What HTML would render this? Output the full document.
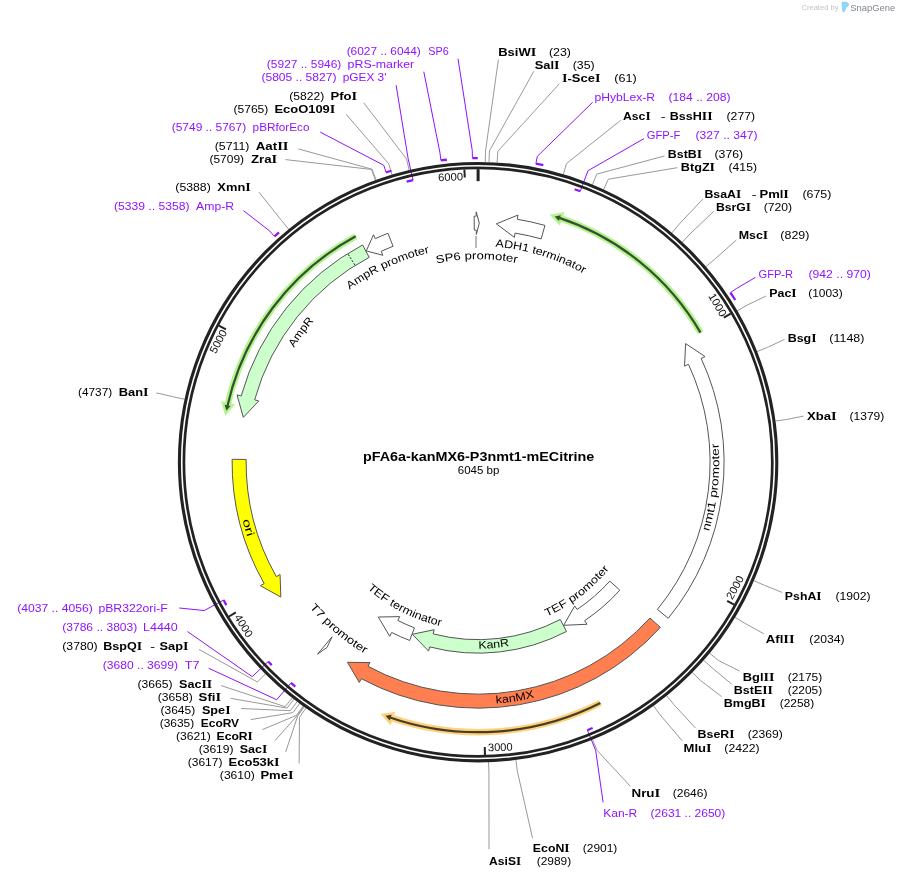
<!DOCTYPE html><html><head><meta charset="utf-8"><style>html,body{margin:0;padding:0;background:#fff;}svg{display:block;will-change:transform;}</style></head><body>
<svg width="899" height="878" viewBox="0 0 899 878" font-family='"Liberation Sans", sans-serif'>
<rect width="899" height="878" fill="#fff"/>
<polyline points="485.27,162.24 485.55,150.74 498.40,59.60" fill="none" stroke="#999999" stroke-width="1"/>
<polyline points="489.01,162.35 489.43,150.86 533.80,71.30" fill="none" stroke="#999999" stroke-width="1"/>
<polyline points="497.11,162.75 497.84,151.28 559.50,83.60" fill="none" stroke="#999999" stroke-width="1"/>
<polyline points="535.89,163.69 537.31,156.33 592.60,102.40" fill="none" stroke="#9013fe" stroke-width="1.0"/>
<polyline points="563.29,174.50 566.55,163.47 620.70,120.30" fill="none" stroke="#999999" stroke-width="1"/>
<polyline points="580.27,191.28 588.03,170.69 644.00,138.60" fill="none" stroke="#9013fe" stroke-width="1.0"/>
<polyline points="592.38,184.77 596.76,174.14 664.40,156.00" fill="none" stroke="#999999" stroke-width="1"/>
<polyline points="603.53,189.63 608.34,179.18 677.20,167.70" fill="none" stroke="#999999" stroke-width="1"/>
<polyline points="671.73,233.01 679.15,224.22 702.80,199.10" fill="none" stroke="#999999" stroke-width="1"/>
<polyline points="682.23,242.31 690.06,233.88 713.80,211.30" fill="none" stroke="#999999" stroke-width="1"/>
<polyline points="705.78,266.80 714.51,259.31 736.40,240.00" fill="none" stroke="#999999" stroke-width="1"/>
<polyline points="730.42,292.59 736.65,288.41 755.40,277.40" fill="none" stroke="#9013fe" stroke-width="1.0"/>
<polyline points="737.20,310.94 747.14,305.14 766.00,296.00" fill="none" stroke="#999999" stroke-width="1"/>
<polyline points="756.97,351.55 767.66,347.31 784.50,339.40" fill="none" stroke="#999999" stroke-width="1"/>
<polyline points="775.27,421.04 786.66,419.47 803.50,416.10" fill="none" stroke="#999999" stroke-width="1"/>
<polyline points="753.70,580.67 764.26,585.21 782.10,592.40" fill="none" stroke="#999999" stroke-width="1"/>
<polyline points="734.89,617.25 744.74,623.20 763.70,633.70" fill="none" stroke="#999999" stroke-width="1"/>
<polyline points="709.49,653.09 718.36,660.41 739.60,671.10" fill="none" stroke="#999999" stroke-width="1"/>
<polyline points="703.43,660.21 712.06,667.80 731.60,684.10" fill="none" stroke="#999999" stroke-width="1"/>
<polyline points="692.18,672.32 700.39,680.37 721.60,696.60" fill="none" stroke="#999999" stroke-width="1"/>
<polyline points="666.56,695.56 673.79,704.51 695.60,728.10" fill="none" stroke="#999999" stroke-width="1"/>
<polyline points="653.42,705.59 660.15,714.92 682.30,740.90" fill="none" stroke="#999999" stroke-width="1"/>
<polyline points="592.53,739.47 596.91,750.10 630.30,786.30" fill="none" stroke="#999999" stroke-width="1"/>
<polyline points="587.41,730.22 595.71,750.59 603.10,802.40" fill="none" stroke="#9013fe" stroke-width="1.0"/>
<polyline points="515.89,759.76 517.33,771.17 532.50,838.10" fill="none" stroke="#999999" stroke-width="1"/>
<polyline points="488.54,761.97 488.94,773.46 489.00,849.10" fill="none" stroke="#999999" stroke-width="1"/>
<polyline points="306.08,707.93 299.49,717.35 299.10,763.40" fill="none" stroke="#999999" stroke-width="1"/>
<polyline points="304.30,706.67 297.63,716.05 285.70,751.90" fill="none" stroke="#999999" stroke-width="1"/>
<polyline points="303.79,706.31 297.11,715.67 275.10,740.50" fill="none" stroke="#999999" stroke-width="1"/>
<polyline points="303.28,705.95 296.58,715.30 262.40,729.60" fill="none" stroke="#999999" stroke-width="1"/>
<polyline points="299.75,703.38 292.92,712.63 250.80,719.60" fill="none" stroke="#999999" stroke-width="1"/>
<polyline points="297.25,701.51 290.32,710.69 241.20,708.50" fill="none" stroke="#999999" stroke-width="1"/>
<polyline points="294.04,699.05 286.98,708.13 230.60,698.30" fill="none" stroke="#999999" stroke-width="1"/>
<polyline points="292.32,697.70 285.20,706.73 221.20,685.60" fill="none" stroke="#999999" stroke-width="1"/>
<polyline points="290.90,682.98 276.68,699.76 208.60,668.20" fill="none" stroke="#9013fe" stroke-width="1.0"/>
<polyline points="265.55,673.87 257.41,681.98 199.00,649.40" fill="none" stroke="#999999" stroke-width="1"/>
<polyline points="268.17,661.50 252.22,676.65 187.40,631.50" fill="none" stroke="#9013fe" stroke-width="1.0"/>
<polyline points="223.57,600.07 204.22,610.55 179.30,608.00" fill="none" stroke="#9013fe" stroke-width="1.0"/>
<polyline points="184.77,399.24 173.53,396.83 156.40,392.90" fill="none" stroke="#999999" stroke-width="1"/>
<polyline points="274.51,236.39 269.49,230.82 243.40,210.60" fill="none" stroke="#9013fe" stroke-width="1.0"/>
<polyline points="288.79,229.42 281.53,220.50 259.00,192.20" fill="none" stroke="#999999" stroke-width="1"/>
<polyline points="375.45,180.26 371.51,169.45 285.50,159.60" fill="none" stroke="#999999" stroke-width="1"/>
<polyline points="376.03,180.05 372.12,169.23 298.30,148.90" fill="none" stroke="#999999" stroke-width="1"/>
<polyline points="386.04,172.42 383.77,165.28 320.20,132.10" fill="none" stroke="#9013fe" stroke-width="1.0"/>
<polyline points="392.02,174.77 388.72,163.75 346.10,114.20" fill="none" stroke="#999999" stroke-width="1"/>
<polyline points="409.18,170.17 406.54,158.98 363.70,102.70" fill="none" stroke="#999999" stroke-width="1"/>
<polyline points="413.06,180.05 408.12,158.61 396.10,85.20" fill="none" stroke="#9013fe" stroke-width="1.0"/>
<polyline points="440.91,160.43 439.99,152.99 423.80,71.70" fill="none" stroke="#9013fe" stroke-width="1.0"/>
<polyline points="472.41,158.20 472.27,150.70 458.00,58.70" fill="none" stroke="#9013fe" stroke-width="1.0"/>
<circle cx="478.1" cy="462.15" r="298.7" fill="none" stroke="#222222" stroke-width="3.1"/>
<circle cx="478.1" cy="462.15" r="294.2" fill="none" stroke="#222222" stroke-width="2.7"/>
<path d="M535.89,163.69 A304.00,304.00 0 0 1 543.31,165.23" fill="none" stroke="#9013fe" stroke-width="2.3"/>
<path d="M574.61,189.21 A289.50,289.50 0 0 1 580.27,191.28" fill="none" stroke="#9013fe" stroke-width="2.3"/>
<path d="M730.42,292.59 A304.00,304.00 0 0 1 735.25,300.01" fill="none" stroke="#9013fe" stroke-width="2.3"/>
<path d="M592.68,728.01 A289.50,289.50 0 0 1 587.41,730.22" fill="none" stroke="#9013fe" stroke-width="2.3"/>
<path d="M295.30,686.64 A289.50,289.50 0 0 1 290.90,682.98" fill="none" stroke="#9013fe" stroke-width="2.3"/>
<path d="M271.72,665.17 A289.50,289.50 0 0 1 268.17,661.50" fill="none" stroke="#9013fe" stroke-width="2.3"/>
<path d="M226.34,605.07 A289.50,289.50 0 0 1 223.57,600.07" fill="none" stroke="#9013fe" stroke-width="2.3"/>
<path d="M274.51,236.39 A304.00,304.00 0 0 1 279.01,232.42" fill="none" stroke="#9013fe" stroke-width="2.3"/>
<path d="M386.04,172.42 A304.00,304.00 0 0 1 391.48,170.75" fill="none" stroke="#9013fe" stroke-width="2.3"/>
<path d="M406.63,181.61 A289.50,289.50 0 0 1 413.06,180.05" fill="none" stroke="#9013fe" stroke-width="2.3"/>
<path d="M440.91,160.43 A304.00,304.00 0 0 1 446.87,159.76" fill="none" stroke="#9013fe" stroke-width="2.3"/>
<path d="M472.41,158.20 A304.00,304.00 0 0 1 477.78,158.15" fill="none" stroke="#9013fe" stroke-width="2.3"/>
<line x1="478.10" y1="169.15" x2="478.10" y2="181.15" stroke="#222222" stroke-width="3"/>
<line x1="730.70" y1="313.68" x2="723.80" y2="317.73" stroke="#222222" stroke-width="2"/>
<text x="0" y="0" transform="translate(717.81,304.78) rotate(59.55)" font-size="11" fill="#111" text-anchor="middle" dominant-baseline="central" textLength="25.31" lengthAdjust="spacingAndGlyphs">1000</text>
<line x1="734.10" y1="604.68" x2="727.11" y2="600.78" stroke="#222222" stroke-width="2"/>
<text x="0" y="0" transform="translate(734.82,587.34) rotate(-60.89)" font-size="11" fill="#111" text-anchor="middle" dominant-baseline="central" textLength="25.00" lengthAdjust="spacingAndGlyphs">2000</text>
<line x1="484.95" y1="755.07" x2="484.76" y2="747.07" stroke="#222222" stroke-width="2"/>
<text x="0" y="0" transform="translate(500.26,746.91) rotate(-1.34)" font-size="11" fill="#111" text-anchor="middle" dominant-baseline="central" textLength="24.86" lengthAdjust="spacingAndGlyphs">3000</text>
<line x1="229.05" y1="616.49" x2="235.85" y2="612.28" stroke="#222222" stroke-width="2"/>
<text x="0" y="0" transform="translate(243.84,625.56) rotate(58.21)" font-size="11" fill="#111" text-anchor="middle" dominant-baseline="central" textLength="24.69" lengthAdjust="spacingAndGlyphs">4000</text>
<line x1="218.84" y1="325.65" x2="225.92" y2="329.38" stroke="#222222" stroke-width="2"/>
<text x="0" y="0" transform="translate(218.06,341.29) rotate(-62.23)" font-size="11" fill="#111" text-anchor="middle" dominant-baseline="central" textLength="24.88" lengthAdjust="spacingAndGlyphs">5000</text>
<line x1="464.40" y1="169.47" x2="464.77" y2="177.46" stroke="#222222" stroke-width="2"/>
<text x="0" y="0" transform="translate(450.52,176.73) rotate(-2.68)" font-size="11" fill="#111" text-anchor="middle" dominant-baseline="central" textLength="25.01" lengthAdjust="spacingAndGlyphs">6000</text>
<path d="M544.96,225.41 A246.00,246.00 0 0 0 517.28,219.29 L517.97,215.05 L496.31,223.84 L514.37,237.36 L515.05,233.11 A232.00,232.00 0 0 1 541.15,238.88 Z" fill="#ffffff" stroke="#555" stroke-width="1.0" stroke-linejoin="miter"/>
<path d="M474.11,216.18 A246.00,246.00 0 0 1 476.21,216.16 L476.18,211.86 L479.27,223.15 L476.35,234.46 L476.32,230.16 A232.00,232.00 0 0 0 474.33,230.18 Z" fill="#ffffff" stroke="#555" stroke-width="1.0" stroke-linejoin="miter"/>
<path d="M387.94,233.27 A246.00,246.00 0 0 0 375.30,238.66 L373.51,234.75 L366.26,250.93 L382.95,255.28 L381.15,251.38 A232.00,232.00 0 0 1 393.07,246.29 Z" fill="#ffffff" stroke="#555" stroke-width="1.0" stroke-linejoin="miter"/>
<path d="M362.61,244.94 A246.00,246.00 0 0 0 241.16,396.02 L237.01,394.86 L243.33,417.37 L258.78,400.94 L254.64,399.78 A232.00,232.00 0 0 1 369.18,257.31 Z" fill="#ccffcc" stroke="#555" stroke-width="1.0" stroke-linejoin="miter"/>
<path d="M232.12,459.27 A246.00,246.00 0 0 0 264.15,583.57 L260.41,585.69 L280.83,597.07 L280.07,574.54 L276.33,576.66 A232.00,232.00 0 0 1 246.12,459.44 Z" fill="#ffff00" stroke="#555" stroke-width="1.0" stroke-linejoin="miter"/>
<path d="M320.30,650.87 A246.00,246.00 0 0 0 320.30,650.87 L317.55,654.17 L327.04,647.36 L332.04,636.83 L329.28,640.13 A232.00,232.00 0 0 0 329.28,640.13 Z" fill="#ffffff" stroke="#555" stroke-width="1.0" stroke-linejoin="miter"/>
<path d="M660.34,627.39 A246.00,246.00 0 0 1 361.34,678.68 L359.30,682.46 L347.48,662.30 L370.03,662.57 L367.99,666.35 A232.00,232.00 0 0 0 649.97,617.99 Z" fill="#ff7f50" stroke="#555" stroke-width="1.0" stroke-linejoin="miter"/>
<path d="M668.19,618.29 A246.00,246.00 0 0 0 701.15,358.40 L705.05,356.58 L685.62,343.59 L684.56,366.12 L688.46,364.30 A232.00,232.00 0 0 1 657.37,609.41 Z" fill="#ffffff" stroke="#555" stroke-width="1.0" stroke-linejoin="miter"/>
<path d="M619.82,590.20 A191.00,191.00 0 0 1 584.63,620.68 L587.03,624.25 L563.69,625.31 L574.70,605.91 L577.10,609.48 A177.50,177.50 0 0 0 609.80,581.15 Z" fill="#ffffff" stroke="#555" stroke-width="1.0" stroke-linejoin="miter"/>
<path d="M566.50,631.46 A191.00,191.00 0 0 1 429.69,646.91 L428.60,651.07 L412.37,634.28 L434.21,629.70 L433.12,633.86 A177.50,177.50 0 0 0 560.25,619.49 Z" fill="#ccffcc" stroke="#555" stroke-width="1.0" stroke-linejoin="miter"/>
<path d="M409.65,640.46 A191.00,191.00 0 0 1 391.68,632.48 L389.74,636.32 L378.29,617.02 L399.74,616.61 L397.79,620.44 A177.50,177.50 0 0 0 414.49,627.86 Z" fill="#ffffff" stroke="#555" stroke-width="1.0" stroke-linejoin="miter"/>
<line x1="354.89" y1="264.98" x2="348.00" y2="253.95" stroke="#222" stroke-width="1" stroke-dasharray="2,1.5"/>
<line x1="476" y1="236" x2="476" y2="248" stroke="#777" stroke-width="1"/>
<path d="M700.52,332.60 A257.40,257.40 0 0 0 558.60,217.66" fill="none" stroke="#b2f58f" stroke-width="6.5"/>
<path d="M554.64,216.39 L560.83,215.24 L558.92,220.93 Z" fill="#b2f58f" stroke="#b2f58f" stroke-width="5" stroke-linejoin="miter"/>
<path d="M700.52,332.60 A257.40,257.40 0 0 0 558.60,217.66" fill="none" stroke="#38502f" stroke-width="2.2"/>
<path d="M554.64,216.39 L560.83,215.24 L558.92,220.93 Z" fill="#38502f"/>
<path d="M355.71,236.27 A256.90,256.90 0 0 0 227.27,406.65" fill="none" stroke="#b2f58f" stroke-width="6.5"/>
<path d="M226.40,410.71 L224.64,404.67 L230.49,406.00 Z" fill="#b2f58f" stroke="#b2f58f" stroke-width="5" stroke-linejoin="miter"/>
<path d="M355.71,236.27 A256.90,256.90 0 0 0 227.27,406.65" fill="none" stroke="#38502f" stroke-width="2.2"/>
<path d="M226.40,410.71 L224.64,404.67 L230.49,406.00 Z" fill="#38502f"/>
<path d="M600.36,702.94 A270.05,270.05 0 0 1 389.32,717.19" fill="none" stroke="#fdd27d" stroke-width="6.5"/>
<path d="M385.47,715.82 L389.69,720.49 L391.63,714.81 Z" fill="#fdd27d" stroke="#fdd27d" stroke-width="5" stroke-linejoin="miter"/>
<path d="M600.36,702.94 A270.05,270.05 0 0 1 389.32,717.19" fill="none" stroke="#4a3d28" stroke-width="2.2"/>
<path d="M385.47,715.82 L389.69,720.49 L391.63,714.81 Z" fill="#4a3d28"/>
<path id="lp1" d="M271.46,399.25 A216.00,216.00 0 0 1 684.74,525.05" fill="none"/>
<text font-size="11.0" fill="#000"><textPath href="#lp1" startOffset="50%" text-anchor="middle" textLength="93.23" lengthAdjust="spacingAndGlyphs">ADH1 terminator</textPath></text>
<path id="lp2" d="M275.10,463.43 A203.00,203.00 0 0 1 681.10,460.87" fill="none"/>
<text font-size="11.0" fill="#000"><textPath href="#lp2" startOffset="50%" text-anchor="middle" textLength="81.12" lengthAdjust="spacingAndGlyphs">SP6 promoter</textPath></text>
<path id="lp3" d="M281.65,553.13 A216.50,216.50 0 0 1 674.55,371.17" fill="none"/>
<text font-size="11.0" fill="#000"><textPath href="#lp3" startOffset="50%" text-anchor="middle" textLength="88.83" lengthAdjust="spacingAndGlyphs">AmpR promoter</textPath></text>
<path id="lp4" d="M349.34,637.44 A217.50,217.50 0 0 1 606.86,286.86" fill="none"/>
<text font-size="11.0" fill="#000"><textPath href="#lp4" startOffset="50%" text-anchor="middle" textLength="33.58" lengthAdjust="spacingAndGlyphs">AmpR</textPath></text>
<path id="lp5" d="M411.80,229.41 A242.00,242.00 0 1 0 544.40,694.89" fill="none"/>
<text font-size="11.0" fill="#000"><textPath href="#lp5" startOffset="50%" text-anchor="middle" textLength="17.75" lengthAdjust="spacingAndGlyphs">ori</textPath></text>
<path id="lp6" d="M452.12,703.25 A242.50,242.50 0 0 0 504.08,221.05" fill="none"/>
<text font-size="11.0" fill="#000"><textPath href="#lp6" startOffset="50%" text-anchor="middle" textLength="89.14" lengthAdjust="spacingAndGlyphs">nmt1 promoter</textPath></text>
<path id="lp7" d="M238.98,499.38 A242.00,242.00 0 0 0 717.22,424.92" fill="none"/>
<text font-size="11.0" fill="#000"><textPath href="#lp7" startOffset="50%" text-anchor="middle" textLength="39.11" lengthAdjust="spacingAndGlyphs">kanMX</textPath></text>
<path id="lp8" d="M293.28,477.99 A185.50,185.50 0 1 0 662.92,446.31" fill="none"/>
<text font-size="11.0" fill="#000"><textPath href="#lp8" startOffset="50%" text-anchor="middle" textLength="31.10" lengthAdjust="spacingAndGlyphs">KanR</textPath></text>
<path id="lp9" d="M343.84,564.80 A169.00,169.00 0 0 0 612.36,359.50" fill="none"/>
<text font-size="11.0" fill="#000"><textPath href="#lp9" startOffset="50%" text-anchor="middle" textLength="79.50" lengthAdjust="spacingAndGlyphs">TEF promoter</textPath></text>
<path id="lp10" d="M327.52,385.43 A169.00,169.00 0 0 0 628.68,538.87" fill="none"/>
<text font-size="11.0" fill="#000"><textPath href="#lp10" startOffset="50%" text-anchor="middle" textLength="83.49" lengthAdjust="spacingAndGlyphs">TEF terminator</textPath></text>
<path id="lp11" d="M307.02,319.11 A223.00,223.00 0 0 0 649.18,605.19" fill="none"/>
<text font-size="11.0" fill="#000"><textPath href="#lp11" startOffset="50%" text-anchor="middle" textLength="72.52" lengthAdjust="spacingAndGlyphs">T7 promoter</textPath></text>
<text x="498.23" y="56.20" font-size="11.0" font-weight="bold" fill="#000" textLength="38.05" lengthAdjust="spacingAndGlyphs">BsiW<tspan font-family="Liberation Serif" font-size="12.10">I</tspan></text>
<text x="548.94" y="56.20" font-size="11.0" fill="#000" textLength="21.93" lengthAdjust="spacingAndGlyphs">(23)</text>
<text x="534.73" y="68.90" font-size="11.0" font-weight="bold" fill="#000" textLength="24.74" lengthAdjust="spacingAndGlyphs">Sal<tspan font-family="Liberation Serif" font-size="12.10">I</tspan></text>
<text x="572.74" y="68.90" font-size="11.0" fill="#000" textLength="21.82" lengthAdjust="spacingAndGlyphs">(35)</text>
<text x="562.02" y="82.10" font-size="11.0" font-weight="bold" fill="#000" textLength="38.46" lengthAdjust="spacingAndGlyphs"><tspan font-family="Liberation Serif" font-size="12.10">I</tspan>-Sce<tspan font-family="Liberation Serif" font-size="12.10">I</tspan></text>
<text x="614.32" y="82.10" font-size="11.0" fill="#000" textLength="22.36" lengthAdjust="spacingAndGlyphs">(61)</text>
<text x="594.42" y="100.90" font-size="11.0" fill="#9013fe" textLength="60.75" lengthAdjust="spacingAndGlyphs">pHybLex-R</text>
<text x="668.55" y="100.90" font-size="11.0" fill="#9013fe" textLength="62.00" lengthAdjust="spacingAndGlyphs">(184 .. 208)</text>
<text x="623.00" y="120.00" font-size="11.0" font-weight="bold" fill="#000" textLength="27.66" lengthAdjust="spacingAndGlyphs">Asc<tspan font-family="Liberation Serif" font-size="12.10">I</tspan></text>
<text x="660.86" y="120.00" font-size="11.0" fill="#000" textLength="4.77" lengthAdjust="spacingAndGlyphs">-</text>
<text x="669.76" y="120.00" font-size="11.0" font-weight="bold" fill="#000" textLength="42.91" lengthAdjust="spacingAndGlyphs">BssH<tspan font-family="Liberation Serif" font-size="12.10">I</tspan><tspan font-family="Liberation Serif" font-size="12.10">I</tspan></text>
<text x="726.54" y="120.00" font-size="11.0" fill="#000" textLength="28.51" lengthAdjust="spacingAndGlyphs">(277)</text>
<text x="646.74" y="138.80" font-size="11.0" fill="#9013fe" textLength="33.61" lengthAdjust="spacingAndGlyphs">GFP-F</text>
<text x="695.55" y="138.80" font-size="11.0" fill="#9013fe" textLength="61.90" lengthAdjust="spacingAndGlyphs">(327 .. 347)</text>
<text x="667.77" y="157.70" font-size="11.0" font-weight="bold" fill="#000" textLength="34.29" lengthAdjust="spacingAndGlyphs">BstB<tspan font-family="Liberation Serif" font-size="12.10">I</tspan></text>
<text x="714.54" y="157.70" font-size="11.0" fill="#000" textLength="28.51" lengthAdjust="spacingAndGlyphs">(376)</text>
<text x="680.75" y="170.70" font-size="11.0" font-weight="bold" fill="#000" textLength="34.32" lengthAdjust="spacingAndGlyphs">BtgZ<tspan font-family="Liberation Serif" font-size="12.10">I</tspan></text>
<text x="728.55" y="170.70" font-size="11.0" fill="#000" textLength="28.41" lengthAdjust="spacingAndGlyphs">(415)</text>
<text x="704.48" y="197.60" font-size="11.0" font-weight="bold" fill="#000" textLength="36.78" lengthAdjust="spacingAndGlyphs">BsaA<tspan font-family="Liberation Serif" font-size="12.10">I</tspan></text>
<text x="751.86" y="197.60" font-size="11.0" fill="#000" textLength="4.77" lengthAdjust="spacingAndGlyphs">-</text>
<text x="759.43" y="197.60" font-size="11.0" font-weight="bold" fill="#000" textLength="29.56" lengthAdjust="spacingAndGlyphs">Pml<tspan font-family="Liberation Serif" font-size="12.10">I</tspan></text>
<text x="802.43" y="197.60" font-size="11.0" fill="#000" textLength="28.94" lengthAdjust="spacingAndGlyphs">(675)</text>
<text x="715.98" y="210.60" font-size="11.0" font-weight="bold" fill="#000" textLength="35.07" lengthAdjust="spacingAndGlyphs">BsrG<tspan font-family="Liberation Serif" font-size="12.10">I</tspan></text>
<text x="763.75" y="210.60" font-size="11.0" fill="#000" textLength="28.41" lengthAdjust="spacingAndGlyphs">(720)</text>
<text x="738.67" y="238.70" font-size="11.0" font-weight="bold" fill="#000" textLength="29.49" lengthAdjust="spacingAndGlyphs">Msc<tspan font-family="Liberation Serif" font-size="12.10">I</tspan></text>
<text x="780.33" y="238.70" font-size="11.0" fill="#000" textLength="29.04" lengthAdjust="spacingAndGlyphs">(829)</text>
<text x="758.54" y="277.90" font-size="11.0" fill="#9013fe" textLength="34.57" lengthAdjust="spacingAndGlyphs">GFP-R</text>
<text x="808.55" y="277.90" font-size="11.0" fill="#9013fe" textLength="62.21" lengthAdjust="spacingAndGlyphs">(942 .. 970)</text>
<text x="769.37" y="297.00" font-size="11.0" font-weight="bold" fill="#000" textLength="27.28" lengthAdjust="spacingAndGlyphs">Pac<tspan font-family="Liberation Serif" font-size="12.10">I</tspan></text>
<text x="808.26" y="297.00" font-size="11.0" fill="#000" textLength="34.48" lengthAdjust="spacingAndGlyphs">(1003)</text>
<text x="787.67" y="342.00" font-size="11.0" font-weight="bold" fill="#000" textLength="28.90" lengthAdjust="spacingAndGlyphs">Bsg<tspan font-family="Liberation Serif" font-size="12.10">I</tspan></text>
<text x="829.35" y="342.00" font-size="11.0" fill="#000" textLength="35.00" lengthAdjust="spacingAndGlyphs">(1148)</text>
<text x="806.98" y="420.10" font-size="11.0" font-weight="bold" fill="#000" textLength="29.60" lengthAdjust="spacingAndGlyphs">Xba<tspan font-family="Liberation Serif" font-size="12.10">I</tspan></text>
<text x="849.45" y="420.10" font-size="11.0" fill="#000" textLength="34.90" lengthAdjust="spacingAndGlyphs">(1379)</text>
<text x="784.88" y="600.00" font-size="11.0" font-weight="bold" fill="#000" textLength="36.68" lengthAdjust="spacingAndGlyphs">PshA<tspan font-family="Liberation Serif" font-size="12.10">I</tspan></text>
<text x="835.45" y="600.00" font-size="11.0" fill="#000" textLength="35.11" lengthAdjust="spacingAndGlyphs">(1902)</text>
<text x="765.77" y="642.50" font-size="11.0" font-weight="bold" fill="#000" textLength="28.82" lengthAdjust="spacingAndGlyphs">Afl<tspan font-family="Liberation Serif" font-size="12.10">I</tspan><tspan font-family="Liberation Serif" font-size="12.10">I</tspan></text>
<text x="809.34" y="642.50" font-size="11.0" fill="#000" textLength="35.21" lengthAdjust="spacingAndGlyphs">(2034)</text>
<text x="742.84" y="680.70" font-size="11.0" font-weight="bold" fill="#000" textLength="31.74" lengthAdjust="spacingAndGlyphs">Bgl<tspan font-family="Liberation Serif" font-size="12.10">I</tspan><tspan font-family="Liberation Serif" font-size="12.10">I</tspan></text>
<text x="787.76" y="680.70" font-size="11.0" fill="#000" textLength="34.48" lengthAdjust="spacingAndGlyphs">(2175)</text>
<text x="733.76" y="693.50" font-size="11.0" font-weight="bold" fill="#000" textLength="39.20" lengthAdjust="spacingAndGlyphs">BstE<tspan font-family="Liberation Serif" font-size="12.10">I</tspan><tspan font-family="Liberation Serif" font-size="12.10">I</tspan></text>
<text x="787.76" y="693.50" font-size="11.0" fill="#000" textLength="34.48" lengthAdjust="spacingAndGlyphs">(2205)</text>
<text x="723.76" y="706.60" font-size="11.0" font-weight="bold" fill="#000" textLength="42.20" lengthAdjust="spacingAndGlyphs">BmgB<tspan font-family="Liberation Serif" font-size="12.10">I</tspan></text>
<text x="779.76" y="706.60" font-size="11.0" fill="#000" textLength="34.48" lengthAdjust="spacingAndGlyphs">(2258)</text>
<text x="697.57" y="737.50" font-size="11.0" font-weight="bold" fill="#000" textLength="36.99" lengthAdjust="spacingAndGlyphs">BseR<tspan font-family="Liberation Serif" font-size="12.10">I</tspan></text>
<text x="747.75" y="737.50" font-size="11.0" fill="#000" textLength="35.00" lengthAdjust="spacingAndGlyphs">(2369)</text>
<text x="683.63" y="751.60" font-size="11.0" font-weight="bold" fill="#000" textLength="28.06" lengthAdjust="spacingAndGlyphs">Mlu<tspan font-family="Liberation Serif" font-size="12.10">I</tspan></text>
<text x="724.35" y="751.60" font-size="11.0" fill="#000" textLength="35.11" lengthAdjust="spacingAndGlyphs">(2422)</text>
<text x="631.50" y="797.40" font-size="11.0" font-weight="bold" fill="#000" textLength="28.79" lengthAdjust="spacingAndGlyphs">Nru<tspan font-family="Liberation Serif" font-size="12.10">I</tspan></text>
<text x="672.76" y="797.40" font-size="11.0" fill="#000" textLength="34.69" lengthAdjust="spacingAndGlyphs">(2646)</text>
<text x="603.21" y="816.70" font-size="11.0" fill="#9013fe" textLength="34.04" lengthAdjust="spacingAndGlyphs">Kan-R</text>
<text x="650.56" y="816.70" font-size="11.0" fill="#9013fe" textLength="74.69" lengthAdjust="spacingAndGlyphs">(2631 .. 2650)</text>
<text x="532.88" y="851.70" font-size="11.0" font-weight="bold" fill="#000" textLength="36.68" lengthAdjust="spacingAndGlyphs">EcoN<tspan font-family="Liberation Serif" font-size="12.10">I</tspan></text>
<text x="582.76" y="851.70" font-size="11.0" fill="#000" textLength="34.58" lengthAdjust="spacingAndGlyphs">(2901)</text>
<text x="489.10" y="864.50" font-size="11.0" font-weight="bold" fill="#000" textLength="32.05" lengthAdjust="spacingAndGlyphs">AsiS<tspan font-family="Liberation Serif" font-size="12.10">I</tspan></text>
<text x="536.76" y="864.50" font-size="11.0" fill="#000" textLength="34.48" lengthAdjust="spacingAndGlyphs">(2989)</text>
<text x="219.85" y="779.00" font-size="11.0" fill="#000" textLength="35.00" lengthAdjust="spacingAndGlyphs">(3610)</text>
<text x="260.43" y="779.00" font-size="11.0" font-weight="bold" fill="#000" textLength="33.16" lengthAdjust="spacingAndGlyphs">Pme<tspan font-family="Liberation Serif" font-size="12.10">I</tspan></text>
<text x="187.76" y="766.00" font-size="11.0" fill="#000" textLength="34.69" lengthAdjust="spacingAndGlyphs">(3617)</text>
<text x="228.63" y="766.00" font-size="11.0" font-weight="bold" fill="#000" textLength="50.95" lengthAdjust="spacingAndGlyphs">Eco53k<tspan font-family="Liberation Serif" font-size="12.10">I</tspan></text>
<text x="198.65" y="753.00" font-size="11.0" fill="#000" textLength="34.90" lengthAdjust="spacingAndGlyphs">(3619)</text>
<text x="239.74" y="753.00" font-size="11.0" font-weight="bold" fill="#000" textLength="27.52" lengthAdjust="spacingAndGlyphs">Sac<tspan font-family="Liberation Serif" font-size="12.10">I</tspan></text>
<text x="175.95" y="740.00" font-size="11.0" fill="#000" textLength="34.90" lengthAdjust="spacingAndGlyphs">(3621)</text>
<text x="216.59" y="740.00" font-size="11.0" font-weight="bold" fill="#000" textLength="36.26" lengthAdjust="spacingAndGlyphs">EcoR<tspan font-family="Liberation Serif" font-size="12.10">I</tspan></text>
<text x="159.76" y="727.00" font-size="11.0" fill="#000" textLength="34.37" lengthAdjust="spacingAndGlyphs">(3635)</text>
<text x="200.81" y="727.00" font-size="11.0" font-weight="bold" fill="#000" textLength="38.28" lengthAdjust="spacingAndGlyphs">EcoRV</text>
<text x="160.45" y="714.00" font-size="11.0" fill="#000" textLength="34.79" lengthAdjust="spacingAndGlyphs">(3645)</text>
<text x="201.94" y="714.00" font-size="11.0" font-weight="bold" fill="#000" textLength="28.63" lengthAdjust="spacingAndGlyphs">Spe<tspan font-family="Liberation Serif" font-size="12.10">I</tspan></text>
<text x="157.75" y="700.50" font-size="11.0" fill="#000" textLength="34.90" lengthAdjust="spacingAndGlyphs">(3658)</text>
<text x="198.62" y="700.50" font-size="11.0" font-weight="bold" fill="#000" textLength="22.47" lengthAdjust="spacingAndGlyphs">Sfi<tspan font-family="Liberation Serif" font-size="12.10">I</tspan></text>
<text x="137.45" y="688.00" font-size="11.0" fill="#000" textLength="35.11" lengthAdjust="spacingAndGlyphs">(3665)</text>
<text x="179.04" y="688.00" font-size="11.0" font-weight="bold" fill="#000" textLength="33.13" lengthAdjust="spacingAndGlyphs">Sac<tspan font-family="Liberation Serif" font-size="12.10">I</tspan><tspan font-family="Liberation Serif" font-size="12.10">I</tspan></text>
<text x="102.75" y="668.80" font-size="11.0" fill="#9013fe" textLength="75.30" lengthAdjust="spacingAndGlyphs">(3680 .. 3699)</text>
<text x="184.81" y="668.80" font-size="11.0" fill="#9013fe" textLength="14.82" lengthAdjust="spacingAndGlyphs">T7</text>
<text x="62.24" y="650.00" font-size="11.0" fill="#000" textLength="35.42" lengthAdjust="spacingAndGlyphs">(3780)</text>
<text x="103.26" y="650.00" font-size="11.0" font-weight="bold" fill="#000" textLength="38.91" lengthAdjust="spacingAndGlyphs">BspQ<tspan font-family="Liberation Serif" font-size="12.10">I</tspan></text>
<text x="150.36" y="650.00" font-size="11.0" fill="#000" textLength="4.77" lengthAdjust="spacingAndGlyphs">-</text>
<text x="159.53" y="650.00" font-size="11.0" font-weight="bold" fill="#000" textLength="28.94" lengthAdjust="spacingAndGlyphs">Sap<tspan font-family="Liberation Serif" font-size="12.10">I</tspan></text>
<text x="62.25" y="630.60" font-size="11.0" fill="#9013fe" textLength="74.99" lengthAdjust="spacingAndGlyphs">(3786 .. 3803)</text>
<text x="142.97" y="630.60" font-size="11.0" fill="#9013fe" textLength="34.82" lengthAdjust="spacingAndGlyphs">L4440</text>
<text x="17.15" y="612.00" font-size="11.0" fill="#9013fe" textLength="75.61" lengthAdjust="spacingAndGlyphs">(4037 .. 4056)</text>
<text x="98.41" y="612.00" font-size="11.0" fill="#9013fe" textLength="69.28" lengthAdjust="spacingAndGlyphs">pBR322ori-F</text>
<text x="77.97" y="395.70" font-size="11.0" fill="#000" textLength="34.17" lengthAdjust="spacingAndGlyphs">(4737)</text>
<text x="118.74" y="395.70" font-size="11.0" font-weight="bold" fill="#000" textLength="29.84" lengthAdjust="spacingAndGlyphs">Ban<tspan font-family="Liberation Serif" font-size="12.10">I</tspan></text>
<text x="113.95" y="209.50" font-size="11.0" fill="#9013fe" textLength="75.50" lengthAdjust="spacingAndGlyphs">(5339 .. 5358)</text>
<text x="196.08" y="209.50" font-size="11.0" fill="#9013fe" textLength="37.99" lengthAdjust="spacingAndGlyphs">Amp-R</text>
<text x="175.34" y="190.80" font-size="11.0" fill="#000" textLength="35.42" lengthAdjust="spacingAndGlyphs">(5388)</text>
<text x="217.39" y="190.80" font-size="11.0" font-weight="bold" fill="#000" textLength="33.39" lengthAdjust="spacingAndGlyphs">Xmn<tspan font-family="Liberation Serif" font-size="12.10">I</tspan></text>
<text x="209.46" y="163.30" font-size="11.0" fill="#000" textLength="34.58" lengthAdjust="spacingAndGlyphs">(5709)</text>
<text x="250.91" y="163.30" font-size="11.0" font-weight="bold" fill="#000" textLength="26.29" lengthAdjust="spacingAndGlyphs">Zra<tspan font-family="Liberation Serif" font-size="12.10">I</tspan></text>
<text x="214.76" y="150.20" font-size="11.0" fill="#000" textLength="34.58" lengthAdjust="spacingAndGlyphs">(5711)</text>
<text x="255.77" y="150.20" font-size="11.0" font-weight="bold" fill="#000" textLength="32.82" lengthAdjust="spacingAndGlyphs">Aat<tspan font-family="Liberation Serif" font-size="12.10">I</tspan><tspan font-family="Liberation Serif" font-size="12.10">I</tspan></text>
<text x="171.76" y="131.30" font-size="11.0" fill="#9013fe" textLength="74.38" lengthAdjust="spacingAndGlyphs">(5749 .. 5767)</text>
<text x="252.64" y="131.30" font-size="11.0" fill="#9013fe" textLength="56.85" lengthAdjust="spacingAndGlyphs">pBRforEco</text>
<text x="233.45" y="112.60" font-size="11.0" fill="#000" textLength="34.90" lengthAdjust="spacingAndGlyphs">(5765)</text>
<text x="274.43" y="112.60" font-size="11.0" font-weight="bold" fill="#000" textLength="60.95" lengthAdjust="spacingAndGlyphs">EcoO109<tspan font-family="Liberation Serif" font-size="12.10">I</tspan></text>
<text x="289.25" y="99.50" font-size="11.0" fill="#000" textLength="34.90" lengthAdjust="spacingAndGlyphs">(5822)</text>
<text x="330.53" y="99.50" font-size="11.0" font-weight="bold" fill="#000" textLength="26.66" lengthAdjust="spacingAndGlyphs">Pfo<tspan font-family="Liberation Serif" font-size="12.10">I</tspan></text>
<text x="261.45" y="80.80" font-size="11.0" fill="#9013fe" textLength="74.99" lengthAdjust="spacingAndGlyphs">(5805 .. 5827)</text>
<text x="342.74" y="80.80" font-size="11.0" fill="#9013fe" textLength="43.66" lengthAdjust="spacingAndGlyphs">pGEX 3&#x27;</text>
<text x="266.86" y="67.60" font-size="11.0" fill="#9013fe" textLength="74.48" lengthAdjust="spacingAndGlyphs">(5927 .. 5946)</text>
<text x="347.60" y="67.60" font-size="11.0" fill="#9013fe" textLength="66.60" lengthAdjust="spacingAndGlyphs">pRS-marker</text>
<text x="346.66" y="54.60" font-size="11.0" fill="#9013fe" textLength="74.18" lengthAdjust="spacingAndGlyphs">(6027 .. 6044)</text>
<text x="428.21" y="54.60" font-size="11.0" fill="#9013fe" textLength="20.47" lengthAdjust="spacingAndGlyphs">SP6</text>
<text x="362.96" y="460.85" font-size="13.0" font-weight="bold" fill="#000" textLength="231.33" lengthAdjust="spacingAndGlyphs">pFA6a-kanMX6-P3nmt1-mECitrine</text>
<text x="457.82" y="473.85" font-size="11.0" fill="#000" textLength="41.57" lengthAdjust="spacingAndGlyphs">6045 bp</text>
<text x="801.41" y="10.30" font-size="7.5" fill="#c4c4c4" textLength="37.10" lengthAdjust="spacingAndGlyphs">Created by</text>
<path d="M841.6,1.8 L846.6,1.8 L848.9,3.6 L848.9,6 L846.6,7.2 L845,11.2 L843.6,12.6 L842,10.5 Z" fill="#8fd6fa"/>
<text x="850.17" y="10.70" font-size="8.5" fill="#7f858d" textLength="45.05" lengthAdjust="spacingAndGlyphs">SnapGene</text>
</svg></body></html>
